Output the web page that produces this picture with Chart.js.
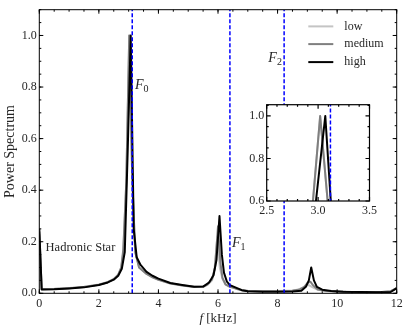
<!DOCTYPE html>
<html>
<head>
<meta charset="utf-8">
<script src="https://cdn.jsdelivr.net/npm/chart.js@4.4.1/dist/chart.umd.min.js"></script>
<style>
  body{margin:0;background:#fff;}
  #caja{position:relative;width:407px;height:331px;}
  #principal{position:absolute;left:0;top:0;}
  #recuadro{position:absolute;left:240px;top:95px;}
</style>
</head>
<body>
<div id="caja">
  <canvas id="principal" width="407" height="331"></canvas>
  <canvas id="recuadro" width="140" height="125"></canvas>
</div>
<script>
// datos (f en kHz, espectro normalizado)
const freqHigh  = [0, 0.08, 0.5, 1, 1.5, 2, 2.3, 2.5, 2.65, 2.77, 2.87, 2.97, 3.07, 3.17, 3.27, 3.4, 3.6, 3.8, 4, 4.4, 4.8, 5.2, 5.5, 5.7, 5.85, 5.95, 6.05, 6.13, 6.2, 6.3, 6.4, 6.6, 6.8, 7, 7.5, 8, 8.5, 8.8, 8.95, 9.05, 9.13, 9.22, 9.32, 9.5, 9.8, 10.2, 10.8, 11.3, 11.8, 12]
const powerHigh = [0.25, 0.015, 0.016, 0.019, 0.023, 0.032, 0.042, 0.053, 0.068, 0.095, 0.16, 0.56, 1.0, 0.25, 0.14, 0.11, 0.083, 0.068, 0.057, 0.04, 0.032, 0.025, 0.026, 0.042, 0.07, 0.13, 0.30, 0.15, 0.08, 0.045, 0.032, 0.022, 0.012, 0.008, 0.006, 0.006, 0.007, 0.01, 0.025, 0.05, 0.10, 0.05, 0.025, 0.014, 0.009, 0.006, 0.005, 0.004, 0.005, 0.02]

const freqMed  = [0, 0.08, 0.5, 1, 1.5, 2, 2.3, 2.5, 2.65, 2.75, 2.82, 2.92, 3.02, 3.12, 3.22, 3.35, 3.6, 3.8, 4, 4.4, 4.8, 5.2, 5.5, 5.65, 5.8, 5.9, 6.0, 6.08, 6.15, 6.25, 6.4, 6.6, 6.8, 7, 7.5, 8, 8.5, 8.75, 8.9, 9.0, 9.1, 9.2, 9.35, 9.6, 10, 10.5, 11, 11.5, 11.8, 12]
const powerMed = [0.24, 0.016, 0.017, 0.02, 0.024, 0.033, 0.043, 0.055, 0.072, 0.1, 0.17, 0.43, 1.0, 0.45, 0.16, 0.1, 0.075, 0.062, 0.052, 0.038, 0.03, 0.024, 0.025, 0.035, 0.055, 0.1, 0.26, 0.12, 0.06, 0.035, 0.025, 0.018, 0.012, 0.009, 0.008, 0.008, 0.01, 0.015, 0.025, 0.04, 0.045, 0.03, 0.015, 0.01, 0.007, 0.005, 0.005, 0.005, 0.008, 0.02]

const freqLow  = [0, 0.08, 0.5, 1, 1.5, 2, 2.3, 2.5, 2.65, 2.75, 2.82, 2.92, 3.02, 3.12, 3.22, 3.35, 3.6, 3.8, 4, 4.4, 4.8, 5.2, 5.5, 5.65, 5.8, 5.88, 5.98, 6.06, 6.15, 6.25, 6.4, 6.6, 6.8, 7, 7.5, 8, 8.5, 8.7, 8.85, 8.95, 9.05, 9.15, 9.3, 9.5, 9.8, 10.3, 11, 11.5, 11.8, 12]
const powerLow = [0.23, 0.017, 0.018, 0.021, 0.025, 0.034, 0.044, 0.056, 0.072, 0.1, 0.16, 0.43, 1.0, 0.45, 0.16, 0.1, 0.076, 0.063, 0.053, 0.039, 0.031, 0.026, 0.026, 0.033, 0.05, 0.09, 0.22, 0.1, 0.055, 0.035, 0.026, 0.019, 0.013, 0.01, 0.009, 0.009, 0.011, 0.015, 0.022, 0.03, 0.032, 0.025, 0.016, 0.011, 0.008, 0.006, 0.005, 0.005, 0.008, 0.02]

// frecuencias F0, F1, F2 (lineas azules)
const fLines  = [3.12, 6.40, 8.22]
const fNames  = ['0', '1', '2']

const seriesNames = ['low', 'medium', 'high']

const xTicks = [0, 2, 4, 6, 8, 10, 12]
const yTicks = [0, 0.2, 0.4, 0.6, 0.8, 1.0]
const insetXTicks = [2.5, 3.0, 3.5]
const insetYTicks = [0.6, 0.8, 1.0]

const fuente = '"Liberation Serif", "DejaVu Serif", serif'
const colTexto = '#262626'
const colores = ['#c4c4c4', '#7f7f7f', '#000000']   // low, medium, high

function serie(fx, fy){
    return fx.map((v, i) => ({x: v, y: fy[i]}))
}

function conjuntos(){
    const lineas = fLines.map(f => ({
        data: [{x: f, y: 0}, {x: f, y: 1.1}],
        borderColor: '#0000ff', borderWidth: 1.5, borderDash: [4, 2],
        pointRadius: 0
    }))
    const curvas = [
        {label: seriesNames[2], data: serie(freqHigh, powerHigh), borderColor: colores[2]},
        {label: seriesNames[1], data: serie(freqMed, powerMed), borderColor: colores[1]},
        {label: seriesNames[0], data: serie(freqLow, powerLow), borderColor: colores[0]}
    ].map(d => Object.assign(d, {borderWidth: 2, pointRadius: 0, borderJoinStyle: 'round', tension: 0}))
    return lineas.concat(curvas)
}

// marco con ticks hacia adentro en los 4 lados
function marco(conf){
    return {
        id: 'marco',
        beforeDraw(chart){
            if(!conf.fondo) return
            const a = chart.chartArea, ctx = chart.ctx
            ctx.save()
            ctx.fillStyle = '#fff'
            ctx.fillRect(a.left, a.top, a.right - a.left, a.bottom - a.top)
            ctx.restore()
        },
        afterDatasetsDraw(chart){
            const ctx = chart.ctx, a = chart.chartArea
            const sx = chart.scales.x, sy = chart.scales.y
            ctx.save()
            ctx.strokeStyle = '#000'
            ctx.lineWidth = conf.ancho
            ctx.beginPath()
            const pasos = (min, max, paso) => {
                const n = Math.round((max - min) / paso), r = []
                for(let i = 0; i <= n; i++) r.push(min + i * paso)
                return r
            }
            const tickX = (v, l) => {
                const p = sx.getPixelForValue(v)
                ctx.moveTo(p, a.bottom); ctx.lineTo(p, a.bottom - l)
                ctx.moveTo(p, a.top); ctx.lineTo(p, a.top + l)
            }
            const tickY = (v, l) => {
                const p = sy.getPixelForValue(v)
                ctx.moveTo(a.left, p); ctx.lineTo(a.left + l, p)
                ctx.moveTo(a.right, p); ctx.lineTo(a.right - l, p)
            }
            pasos(sx.min, sx.max, conf.menorX).forEach(v => tickX(v, 2))
            pasos(sy.min, sy.max, conf.menorY).forEach(v => tickY(v, 2))
            sx.ticks.forEach(t => tickX(t.value, 4))
            sy.ticks.forEach(t => tickY(t.value, 4))
            ctx.stroke()
            ctx.strokeRect(a.left, a.top, a.right - a.left, a.bottom - a.top)
            ctx.restore()
        }
    }
}

function etiquetaF(ctx, sub, px, py){
    ctx.font = 'italic 14px ' + fuente
    ctx.textAlign = 'left'
    ctx.textBaseline = 'alphabetic'
    ctx.fillText('F', px, py)
    const w = ctx.measureText('F').width
    ctx.font = '10px ' + fuente
    ctx.fillText(sub, px + w, py + 3)
}

// textos, leyenda y titulos del grafico principal
const textos = {
    id: 'textos',
    afterDraw(chart){
        const ctx = chart.ctx, a = chart.chartArea
        const sx = chart.scales.x, sy = chart.scales.y
        ctx.save()
        ctx.fillStyle = colTexto

        etiquetaF(ctx, fNames[0], sx.getPixelForValue(3.21), sy.getPixelForValue(0.81) + 5)
        etiquetaF(ctx, fNames[1], sx.getPixelForValue(6.47), sy.getPixelForValue(0.20) + 5)
        etiquetaF(ctx, fNames[2], sx.getPixelForValue(7.69), sy.getPixelForValue(0.918) + 5)

        ctx.font = '12.5px ' + fuente
        ctx.textAlign = 'left'
        ctx.textBaseline = 'middle'
        ctx.fillText('Hadronic Star', sx.getPixelForValue(0.21), sy.getPixelForValue(0.177))

        // leyenda
        const filas = [16.7, 34.4, 52.4]
        seriesNames.forEach((nombre, i) => {
            const yy = a.top + filas[i]
            ctx.strokeStyle = colores[i]
            ctx.lineWidth = 2
            ctx.beginPath()
            ctx.moveTo(a.right - 88.4, yy)
            ctx.lineTo(a.right - 63.4, yy)
            ctx.stroke()
            ctx.fillStyle = colTexto
            ctx.font = '12px ' + fuente
            ctx.textBaseline = 'middle'
            ctx.fillText(nombre, a.right - 52.4, yy)
        })

        // titulo eje x: f [kHz]
        const cx = (a.left + a.right) / 2
        ctx.font = 'italic 13px ' + fuente
        const w1 = ctx.measureText('f').width
        ctx.font = '13px ' + fuente
        const w2 = ctx.measureText(' [kHz]').width
        const x0 = cx - (w1 + w2) / 2
        ctx.textBaseline = 'alphabetic'
        ctx.font = 'italic 13px ' + fuente
        ctx.fillText('f', x0, 322)
        ctx.font = '13px ' + fuente
        ctx.fillText(' [kHz]', x0 + w1, 322)

        // titulo eje y
        ctx.translate(10, (a.top + a.bottom) / 2)
        ctx.rotate(-Math.PI / 2)
        ctx.font = '14px ' + fuente
        ctx.textAlign = 'center'
        ctx.textBaseline = 'middle'
        ctx.fillText('Power Spectrum', 0, 0)
        ctx.restore()
    }
}

function ejes(xmin, xmax, ymin, ymax, xt, yt, anchoY, altoX){
    const marcas = {font: {family: fuente, size: 12}, color: colTexto, maxRotation: 0, autoSkip: false}
    return {
        x: {
            type: 'linear', min: xmin, max: xmax,
            grid: {display: false, drawTicks: false}, border: {display: false},
            ticks: Object.assign({padding: 3, callback: v => xt === xTicks ? String(v) : v.toFixed(1)}, marcas),
            afterBuildTicks: s => { s.ticks = xt.map(v => ({value: v})) },
            afterFit: s => { s.height = altoX }
        },
        y: {
            type: 'linear', min: ymin, max: ymax,
            grid: {display: false, drawTicks: false}, border: {display: false},
            ticks: Object.assign({padding: 2.5, callback: v => v.toFixed(1)}, marcas),
            afterBuildTicks: s => { s.ticks = yt.map(v => ({value: v})) },
            afterFit: s => { s.width = anchoY }
        }
    }
}

function grafico(){
    new Chart(document.getElementById('principal'), {
        type: 'line',
        data: {datasets: conjuntos()},
        options: {
            responsive: false, animation: false, events: [],
            layout: {padding: {top: 3.3, right: 10.3, left: 0, bottom: 0}},
            scales: ejes(0, 12, 0, 1.1, xTicks, yTicks, 39.3, 37.7),
            plugins: {legend: {display: false}, tooltip: {enabled: false}}
        },
        plugins: [marco({ancho: 1, menorX: 0.5, menorY: 0.05}), textos]
    })

    // recuadro ampliado del pico F0
    new Chart(document.getElementById('recuadro'), {
        type: 'line',
        data: {datasets: conjuntos()},
        options: {
            responsive: false, animation: false, events: [],
            layout: {padding: {top: 6.7, right: 5.7, left: 0, bottom: 0}},
            scales: ejes(2.5, 3.5, 0.6, 1.053, insetXTicks, insetYTicks, 26.7, 19),
            plugins: {legend: {display: false}, tooltip: {enabled: false}}
        },
        plugins: [marco({ancho: 1.2, menorX: 0.1, menorY: 0.05, fondo: true})]
    })
}

grafico()
</script>
</body>
</html>
